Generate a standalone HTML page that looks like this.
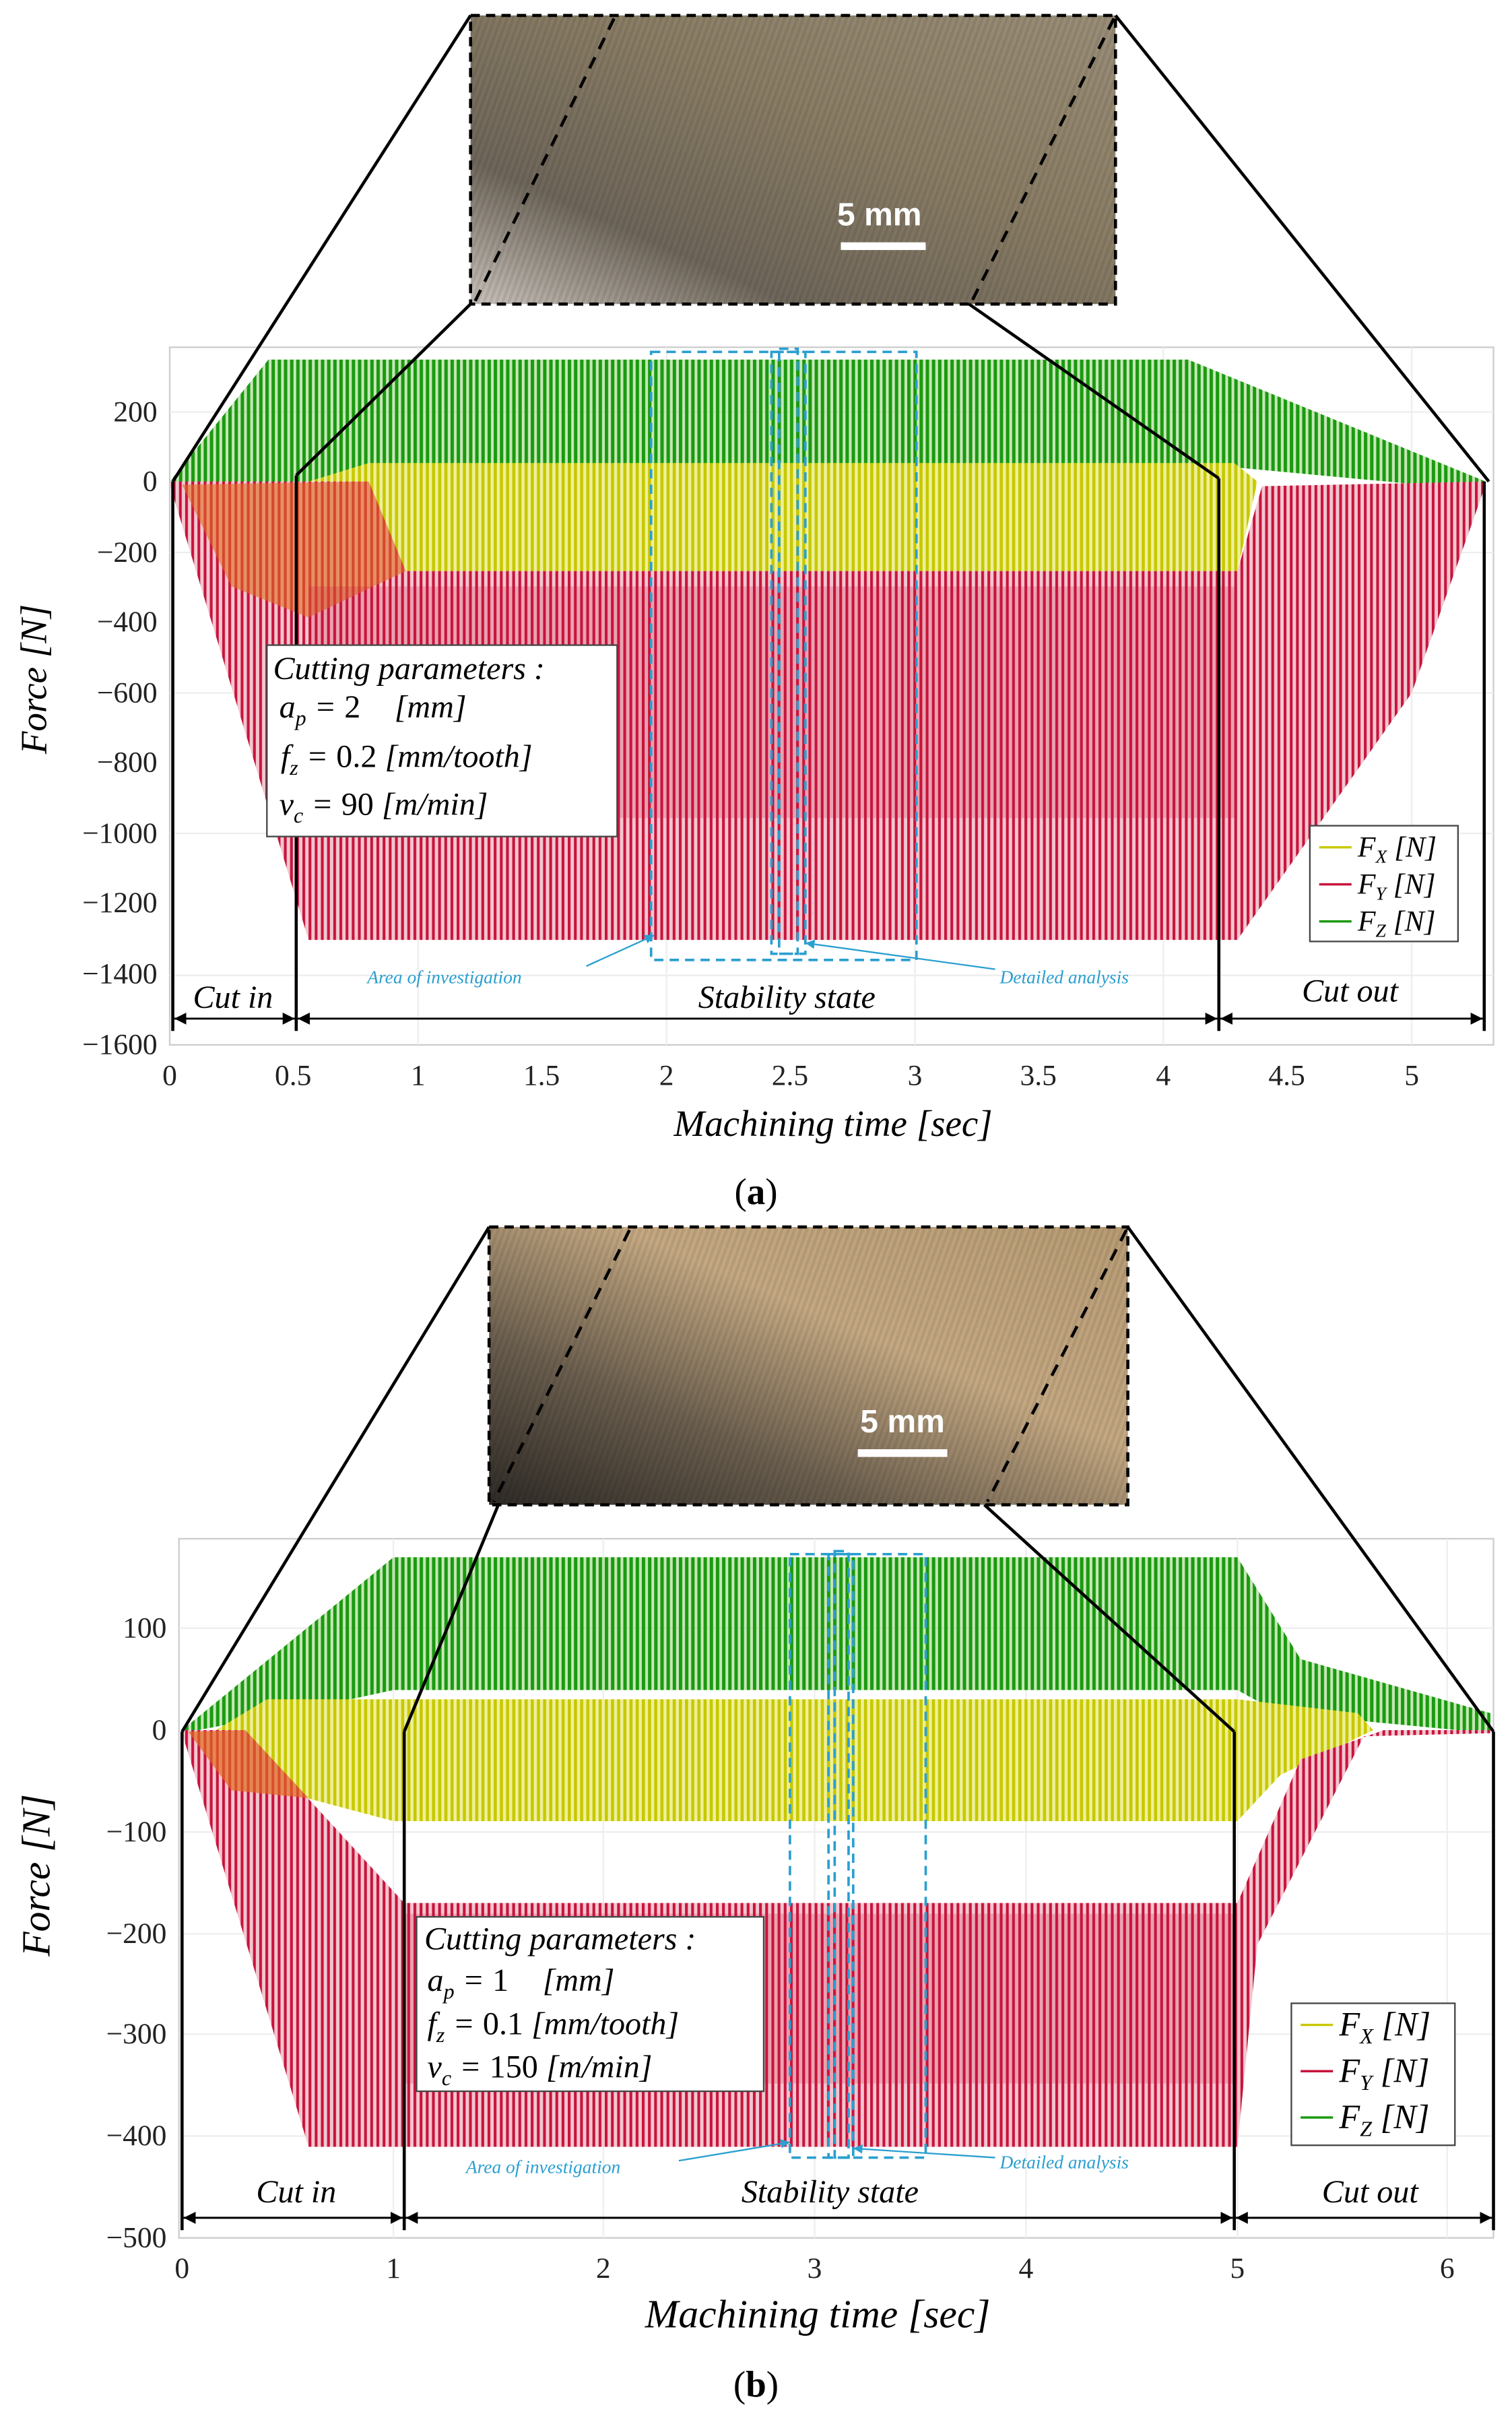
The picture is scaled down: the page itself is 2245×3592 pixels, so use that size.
<!DOCTYPE html>
<html><head><meta charset="utf-8"><style>html,body{margin:0;padding:0;background:#fff}svg{display:block}</style></head><body>
<svg width="2245" height="3592" viewBox="0 0 980 1568" xmlns="http://www.w3.org/2000/svg" font-family="Liberation Serif, serif">
<defs>
<pattern id="rs" width="4" height="10" patternUnits="userSpaceOnUse"><rect width="4" height="10" fill="#f2c6d0"/><rect width="1.8" height="10" fill="#c8143c"/></pattern>
<pattern id="gs" width="4" height="10" patternUnits="userSpaceOnUse"><rect width="4" height="10" fill="#8fcf70" opacity="0.5"/><rect width="2.2" height="10" fill="#1a9a10"/></pattern>
<pattern id="ys" width="4" height="10" patternUnits="userSpaceOnUse"><rect width="4" height="10" fill="#eef09a"/><rect width="2" height="10" fill="#c8c800"/></pattern>
<linearGradient id="pa" x1="0" y1="1" x2="1" y2="0"><stop offset="0" stop-color="#c9c2bb"/><stop offset="0.25" stop-color="#6e665a"/><stop offset="0.6" stop-color="#8a7d65"/><stop offset="1" stop-color="#9a8e78"/></linearGradient>
<linearGradient id="pb" x1="0" y1="1" x2="1" y2="0"><stop offset="0" stop-color="#2e2a26"/><stop offset="0.3" stop-color="#6a5e4e"/><stop offset="0.6" stop-color="#c4a882"/><stop offset="1" stop-color="#b89c74"/></linearGradient>
<pattern id="ph" width="4" height="20" patternUnits="userSpaceOnUse" patternTransform="skewX(-20)"><rect width="2" height="20" fill="#000" opacity="0.08"/></pattern>
<marker id="ar" viewBox="0 0 10 10" refX="10" refY="5" markerWidth="6" markerHeight="6" orient="auto-start-reverse"><path d="M0,0L10,5L0,10z" fill="#000"/></marker>
<marker id="ab" viewBox="0 0 10 10" refX="10" refY="5" markerWidth="6" markerHeight="6" orient="auto"><path d="M0,0L10,5L0,10z" fill="#2a9fd0"/></marker>
</defs>

<!-- ===== PANEL A ===== -->
<rect x="305" y="10" width="418" height="187" fill="url(#pa)"/>
<rect x="305" y="10" width="418" height="187" fill="url(#ph)"/>
<rect x="305" y="10" width="418" height="187" fill="none" stroke="#000" stroke-width="2" stroke-dasharray="6,4"/>
<line x1="398" y1="12" x2="308" y2="195" stroke="#000" stroke-width="2" stroke-dasharray="8,6"/>
<line x1="722" y1="12" x2="630" y2="195" stroke="#000" stroke-width="2" stroke-dasharray="8,6"/>
<text x="570" y="146" font-family="Liberation Sans, sans-serif" font-weight="bold" font-size="21" fill="#fff" text-anchor="middle">5 mm</text>
<rect x="545" y="157" width="55" height="5" fill="#fff"/>

<rect x="110" y="225" width="858" height="452" fill="#fff" stroke="#ccc"/>
<g stroke="#eee" stroke-width="1">
<line x1="110" y1="267" x2="968" y2="267"/><line x1="110" y1="358" x2="968" y2="358"/><line x1="110" y1="449" x2="968" y2="449"/><line x1="110" y1="540" x2="968" y2="540"/><line x1="110" y1="632" x2="968" y2="632"/>
<line x1="271" y1="225" x2="271" y2="677"/><line x1="432" y1="225" x2="432" y2="677"/><line x1="593" y1="225" x2="593" y2="677"/><line x1="754" y1="225" x2="754" y2="677"/><line x1="915" y1="225" x2="915" y2="677"/>
</g>
<polygon points="110,312 174,233 770,233 963,312 963,318 802,303 255,303 190,316 110,314" fill="url(#gs)"/>
<polygon points="200,312 239,300 800,300 815,312 802,370 250,370 200,330" fill="url(#ys)"/>
<polygon points="110,312 239,312 263,370 802,370 818,315 963,312 963,314 915,449 802,609 200,609 110,314" fill="url(#rs)"/>
<polygon points="118,314 239,312 263,370 200,400 150,380" fill="#e06a20" opacity="0.6"/>
<rect x="200" y="380" width="602" height="150" fill="#c8143c" opacity="0.2"/>

<g font-size="19" text-anchor="end" fill="#222">
<text x="102" y="273">200</text><text x="102" y="318">0</text><text x="102" y="364">−200</text><text x="102" y="409">−400</text><text x="102" y="455">−600</text><text x="102" y="500">−800</text><text x="102" y="546">−1000</text><text x="102" y="591">−1200</text><text x="102" y="637">−1400</text><text x="102" y="683">−1600</text>
</g>
<g font-size="19" text-anchor="middle" fill="#222">
<text x="110" y="703">0</text><text x="190" y="703">0.5</text><text x="271" y="703">1</text><text x="351" y="703">1.5</text><text x="432" y="703">2</text><text x="512" y="703">2.5</text><text x="593" y="703">3</text><text x="673" y="703">3.5</text><text x="754" y="703">4</text><text x="834" y="703">4.5</text><text x="915" y="703">5</text>
</g>
<text x="540" y="736" font-size="24" font-style="italic" text-anchor="middle">Machining time [sec]</text>
<text transform="translate(30,440) rotate(-90)" font-size="24" font-style="italic" text-anchor="middle">Force [N]</text>
<text x="490" y="780" font-size="24" text-anchor="middle">(<tspan font-weight="bold">a</tspan>)</text>

<g stroke="#000" stroke-width="2" fill="none">
<line x1="305" y1="10" x2="112" y2="312"/><line x1="723" y1="10" x2="965" y2="312"/>
<line x1="305" y1="197" x2="192" y2="308"/><line x1="628" y1="197" x2="790" y2="310"/>
<line x1="192" y1="308" x2="192" y2="668"/><line x1="790" y1="310" x2="790" y2="668"/>
<line x1="112" y1="312" x2="112" y2="668"/><line x1="962" y1="312" x2="962" y2="668"/>
</g>
<g stroke="#000" stroke-width="1.3">
<line x1="113" y1="660" x2="191" y2="660" marker-start="url(#ar)" marker-end="url(#ar)"/>
<line x1="193" y1="660" x2="789" y2="660" marker-start="url(#ar)" marker-end="url(#ar)"/>
<line x1="791" y1="660" x2="961" y2="660" marker-start="url(#ar)" marker-end="url(#ar)"/>
</g>
<g font-size="21" font-style="italic" text-anchor="middle"><text x="151" y="653">Cut in</text><text x="510" y="653">Stability state</text><text x="875" y="649">Cut out</text></g>
<g stroke="#2a9fd0" stroke-width="1.6" fill="none" stroke-dasharray="6,4">
<rect x="422" y="228" width="172" height="394"/><rect x="500" y="228" width="22" height="390"/><rect x="505" y="226" width="12" height="392"/>
</g>
<g stroke="#2a9fd0" stroke-width="1"><line x1="380" y1="626" x2="424" y2="606" marker-end="url(#ab)"/><line x1="645" y1="628" x2="522" y2="611" marker-end="url(#ab)"/></g>
<g font-size="12" font-style="italic" fill="#2a9fd0"><text x="238" y="637">Area of investigation</text><text x="648" y="637">Detailed analysis</text></g>

<rect x="173" y="418" width="227" height="124" fill="#fff" stroke="#444"/>
<g font-size="21" font-style="italic"><text x="177" y="440">Cutting parameters :</text><text x="181" y="465">a<tspan font-size="14" dy="5">p</tspan><tspan dy="-5"> = </tspan><tspan font-style="normal">2</tspan><tspan dx="22">[mm]</tspan></text><text x="182" y="497">f<tspan font-size="14" dy="5">z</tspan><tspan dy="-5"> = </tspan><tspan font-style="normal">0.2</tspan> [mm/tooth]</text><text x="181" y="528">v<tspan font-size="14" dy="5">c</tspan><tspan dy="-5"> = </tspan><tspan font-style="normal">90</tspan> [m/min]</text></g>

<rect x="849" y="535" width="96" height="75" fill="#fff" stroke="#444"/>
<g stroke-width="1.5"><line x1="855" y1="549" x2="876" y2="549" stroke="#c8c800"/><line x1="855" y1="573" x2="876" y2="573" stroke="#c8143c"/><line x1="855" y1="597" x2="876" y2="597" stroke="#1a9a10"/></g>
<g font-size="19" font-style="italic"><text x="880" y="555">F<tspan font-size="12" dy="4">X</tspan><tspan dy="-4"> [N]</tspan></text><text x="880" y="579">F<tspan font-size="12" dy="4">Y</tspan><tspan dy="-4"> [N]</tspan></text><text x="880" y="603">F<tspan font-size="12" dy="4">Z</tspan><tspan dy="-4"> [N]</tspan></text></g>

<!-- ===== PANEL B ===== -->
<rect x="317" y="795" width="414" height="180" fill="url(#pb)"/>
<rect x="317" y="795" width="414" height="180" fill="url(#ph)"/>
<rect x="317" y="795" width="414" height="180" fill="none" stroke="#000" stroke-width="2" stroke-dasharray="6,4"/>
<line x1="408" y1="797" x2="320" y2="973" stroke="#000" stroke-width="2" stroke-dasharray="8,6"/>
<line x1="730" y1="797" x2="640" y2="973" stroke="#000" stroke-width="2" stroke-dasharray="8,6"/>
<text x="585" y="928" font-family="Liberation Sans, sans-serif" font-weight="bold" font-size="21" fill="#fff" text-anchor="middle">5 mm</text>
<rect x="556" y="939" width="58" height="5" fill="#fff"/>

<rect x="116" y="997" width="852" height="453" fill="#fff" stroke="#ccc"/>
<g stroke="#eee" stroke-width="1">
<line x1="116" y1="1055" x2="968" y2="1055"/><line x1="116" y1="1187" x2="968" y2="1187"/><line x1="116" y1="1253" x2="968" y2="1253"/><line x1="116" y1="1318" x2="968" y2="1318"/><line x1="116" y1="1384" x2="968" y2="1384"/>
<line x1="255" y1="997" x2="255" y2="1450"/><line x1="391" y1="997" x2="391" y2="1450"/><line x1="528" y1="997" x2="528" y2="1450"/><line x1="665" y1="997" x2="665" y2="1450"/><line x1="802" y1="997" x2="802" y2="1450"/><line x1="938" y1="997" x2="938" y2="1450"/>
</g>
<polygon points="118,1121 255,1009 802,1009 843,1075 966,1110 966,1121 966,1123 829,1110 802,1095 255,1095 186,1110 118,1123" fill="url(#gs)"/>
<polygon points="140,1121 173,1101 802,1101 880,1110 890,1121 830,1150 802,1180 255,1180 180,1160" fill="url(#ys)"/>
<polygon points="118,1121 159,1121 262,1233 802,1233 843,1140 897,1121 966,1121 966,1123 884,1125 815,1260 802,1391 200,1391 118,1123" fill="url(#rs)"/>
<polygon points="122,1122 159,1121 200,1165 150,1160" fill="#e06a20" opacity="0.7"/>
<rect x="262" y="1240" width="540" height="110" fill="#c8143c" opacity="0.2"/>

<g font-size="19" text-anchor="end" fill="#222">
<text x="108" y="1061">100</text><text x="108" y="1127">0</text><text x="108" y="1193">−100</text><text x="108" y="1259">−200</text><text x="108" y="1324">−300</text><text x="108" y="1390">−400</text><text x="108" y="1456">−500</text>
</g>
<g font-size="19" text-anchor="middle" fill="#222">
<text x="118" y="1476">0</text><text x="255" y="1476">1</text><text x="391" y="1476">2</text><text x="528" y="1476">3</text><text x="665" y="1476">4</text><text x="802" y="1476">5</text><text x="938" y="1476">6</text>
</g>
<text x="530" y="1508" font-size="26" font-style="italic" text-anchor="middle">Machining time [sec]</text>
<text transform="translate(32,1215) rotate(-90)" font-size="26" font-style="italic" text-anchor="middle">Force [N]</text>
<text x="490" y="1553" font-size="24" text-anchor="middle">(<tspan font-weight="bold">b</tspan>)</text>

<g stroke="#000" stroke-width="2" fill="none">
<line x1="317" y1="795" x2="118" y2="1122"/><line x1="731" y1="795" x2="968" y2="1122"/>
<line x1="323" y1="975" x2="262" y2="1122"/><line x1="638" y1="975" x2="800" y2="1122"/>
<line x1="262" y1="1122" x2="262" y2="1445"/><line x1="800" y1="1122" x2="800" y2="1445"/>
<line x1="118" y1="1122" x2="118" y2="1445"/><line x1="968" y1="1122" x2="968" y2="1445"/>
</g>
<g stroke="#000" stroke-width="1.3">
<line x1="119" y1="1437" x2="261" y2="1437" marker-start="url(#ar)" marker-end="url(#ar)"/>
<line x1="263" y1="1437" x2="799" y2="1437" marker-start="url(#ar)" marker-end="url(#ar)"/>
<line x1="801" y1="1437" x2="967" y2="1437" marker-start="url(#ar)" marker-end="url(#ar)"/>
</g>
<g font-size="21" font-style="italic" text-anchor="middle"><text x="192" y="1427">Cut in</text><text x="538" y="1427">Stability state</text><text x="888" y="1427">Cut out</text></g>
<g stroke="#2a9fd0" stroke-width="1.6" fill="none" stroke-dasharray="6,4">
<rect x="512" y="1007" width="88" height="391"/><rect x="537" y="1007" width="16" height="391"/><rect x="541" y="1005" width="9" height="393"/>
</g>
<g stroke="#2a9fd0" stroke-width="1"><line x1="440" y1="1400" x2="512" y2="1388" marker-end="url(#ab)"/><line x1="645" y1="1398" x2="553" y2="1392" marker-end="url(#ab)"/></g>
<g font-size="12" font-style="italic" fill="#2a9fd0"><text x="302" y="1408">Area of investigation</text><text x="648" y="1405">Detailed analysis</text></g>

<rect x="270" y="1242" width="225" height="113" fill="#fff" stroke="#444"/>
<g font-size="21" font-style="italic"><text x="275" y="1263">Cutting parameters :</text><text x="277" y="1290">a<tspan font-size="14" dy="5">p</tspan><tspan dy="-5"> = </tspan><tspan font-style="normal">1</tspan><tspan dx="22">[mm]</tspan></text><text x="277" y="1318">f<tspan font-size="14" dy="5">z</tspan><tspan dy="-5"> = </tspan><tspan font-style="normal">0.1</tspan> [mm/tooth]</text><text x="277" y="1346">v<tspan font-size="14" dy="5">c</tspan><tspan dy="-5"> = </tspan><tspan font-style="normal">150</tspan> [m/min]</text></g>

<rect x="837" y="1298" width="106" height="92" fill="#fff" stroke="#444"/>
<g stroke-width="1.5"><line x1="843" y1="1312" x2="864" y2="1312" stroke="#c8c800"/><line x1="843" y1="1342" x2="864" y2="1342" stroke="#c8143c"/><line x1="843" y1="1372" x2="864" y2="1372" stroke="#1a9a10"/></g>
<g font-size="22" font-style="italic"><text x="868" y="1319">F<tspan font-size="14" dy="5">X</tspan><tspan dy="-5"> [N]</tspan></text><text x="868" y="1349">F<tspan font-size="14" dy="5">Y</tspan><tspan dy="-5"> [N]</tspan></text><text x="868" y="1379">F<tspan font-size="14" dy="5">Z</tspan><tspan dy="-5"> [N]</tspan></text></g>
</svg>
</body></html>
